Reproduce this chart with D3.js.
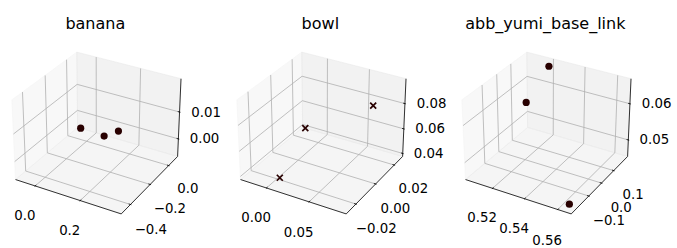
<!DOCTYPE html>
<html>
<head>
<meta charset="utf-8">
<script src="https://cdn.jsdelivr.net/npm/d3@7"></script>
<style>
  body { margin: 0; background: #fff; }
  svg { display: block; }
  text { font-family: "DejaVu Sans", sans-serif; fill: #000; }
</style>
</head>
<body>
<svg id="chart" width="677" height="248"></svg>
<script>
// data
var titles = ["banana", "bowl", "abb_yumi_base_link"];
var markers = ["o", "x", "o"];

var xLims = [[-0.09, 0.375], [-0.0315, 0.092], [0.5027, 0.568]];
var yLims = [[-0.49, 0.10], [-0.0294, 0.0294], [-0.232, 0.218]];
var zLims = [[-0.0067, 0.022], [0.0375, 0.0992], [0.0453, 0.0667]];

var xTicks = [[0.0, 0.2], [0.00, 0.05], [0.52, 0.54, 0.56]];
var yTicks = [[-0.4, -0.2, 0.0], [-0.02, 0.00, 0.02], [-0.1, 0.0, 0.1]];
var zTicks = [[0.00, 0.01], [0.04, 0.06, 0.08], [0.05, 0.06]];

var xTickLabels = [["0.0", "0.2"], ["0.00", "0.05"], ["0.52", "0.54", "0.56"]];
var yTickLabels = [["\u22120.4", "\u22120.2", "0.0"], ["\u22120.02", "0.00", "0.02"], ["\u22120.1", "0.0", "0.1"]];
var zTickLabels = [["0.00", "0.01"], ["0.04", "0.06", "0.08"], ["0.05", "0.06"]];

var bananaX = [-0.003, 0.110, 0.140];
var bananaY = [-0.052, -0.062, 0.018];
var bananaZ = [0.0, 0.0, 0.0];

var bowlX = [0.0110, 0.0021, 0.072];
var bowlY = [-0.0255, 0.0056, 0.0139];
var bowlZ = [0.045, 0.060, 0.085];

var baseX = [0.5196, 0.5183, 0.5635];
var baseY = [0.188, 0.0324, -0.190];
var baseZ = [0.0655, 0.060, 0.0457];

var pointsX = [bananaX, bowlX, baseX];
var pointsY = [bananaY, bowlY, baseY];
var pointsZ = [bananaZ, bowlZ, baseZ];

// view like a default 3d axes: elev 30, azim -60, box aspect 4:4:3
var box = [8 / 7, 8 / 7, 6 / 7];
var elev = 30 * Math.PI / 180, azim = -60 * Math.PI / 180, dist = 10;

function dot(a, b){ return a[0] * b[0] + a[1] * b[1] + a[2] * b[2]; }
function cross(a, b){
    return [a[1] * b[2] - a[2] * b[1], a[2] * b[0] - a[0] * b[2], a[0] * b[1] - a[1] * b[0]];
}
function norm(a){ var l = Math.sqrt(dot(a, a)); return [a[0] / l, a[1] / l, a[2] / l]; }

var w = [Math.cos(elev) * Math.cos(azim), Math.cos(elev) * Math.sin(azim), Math.sin(elev)];
var u = norm(cross([0, 0, 1], w));
var v = cross(w, u);

function project(q){
    var d = dist - dot(w, q);
    return [dot(u, q) / d, dot(v, q) / d];
}

var svg = d3.select("#chart");
var line = d3.line();

function drawPanel(i){
    var left = -2.7 + 225 * i, top = 33.9, side = 196.1;
    var sx = d3.scaleLinear().domain([-0.095, 0.09]).range([left, left + side]);
    var sy = d3.scaleLinear().domain([-0.095, 0.09]).range([top + side, top]);
    var qx = d3.scaleLinear().domain(xLims[i]).range([-box[0] / 2, box[0] / 2]);
    var qy = d3.scaleLinear().domain(yLims[i]).range([-box[1] / 2, box[1] / 2]);
    var qz = d3.scaleLinear().domain(zLims[i]).range([-box[2] / 2, box[2] / 2]);

    // data point -> screen, with an optional shift in box units
    function pt(x, y, z, off){
        off = off || [0, 0, 0];
        var p = project([qx(x) + off[0], qy(y) + off[1], qz(z) + off[2]]);
        return [sx(p[0]), sy(p[1])];
    }

    var x0 = xLims[i][0], x1 = xLims[i][1];
    var y0 = yLims[i][0], y1 = yLims[i][1];
    var z0 = zLims[i][0], z1 = zLims[i][1];

    var g = svg.append("g").classed("panel", true);

    // panes
    var panes = [
        {c: "rgba(242,242,242,0.5)", p: [[x0, y0, z0], [x0, y1, z0], [x0, y1, z1], [x0, y0, z1]]},
        {c: "rgba(230,230,230,0.5)", p: [[x0, y1, z0], [x1, y1, z0], [x1, y1, z1], [x0, y1, z1]]},
        {c: "rgba(236,236,236,0.5)", p: [[x0, y0, z0], [x1, y0, z0], [x1, y1, z0], [x0, y1, z0]]}
    ];
    g.selectAll("path.pane")
        .data(panes)
        .enter().append("path")
            .classed("pane", true)
            .attr("d", d => line(d.p.map(c => pt(c[0], c[1], c[2]))) + "Z")
            .attr("fill", d => d.c)
            .attr("stroke", d => d.c)
            .attr("stroke-width", 1);

    // grid
    var grid = [];
    xTicks[i].forEach(t => grid.push([[t, y0, z0], [t, y1, z0], [t, y1, z1]]));
    yTicks[i].forEach(t => grid.push([[x1, t, z0], [x0, t, z0], [x0, t, z1]]));
    zTicks[i].forEach(t => grid.push([[x0, y0, t], [x0, y1, t], [x1, y1, t]]));
    g.selectAll("path.grid")
        .data(grid)
        .enter().append("path")
            .classed("grid", true)
            .attr("d", d => line(d.map(c => pt(c[0], c[1], c[2]))))
            .attr("fill", "none")
            .attr("stroke", "#b0b0b0")
            .attr("stroke-width", 0.8);

    // axis lines
    var axes = [
        [[x0, y0, z0], [x1, y0, z0]],
        [[x1, y0, z0], [x1, y1, z0]],
        [[x1, y1, z0], [x1, y1, z1]]
    ];
    g.selectAll("path.axis")
        .data(axes)
        .enter().append("path")
            .classed("axis", true)
            .attr("d", d => line(d.map(c => pt(c[0], c[1], c[2]))))
            .attr("fill", "none")
            .attr("stroke", "#000")
            .attr("stroke-width", 0.8);

    // ticks: x ticks point along -y, y and z ticks along +x
    var dt = box[0] / 12;
    var ticks = [];
    xTicks[i].forEach((t, k) => ticks.push({
        a: pt(t, y0, z0, [0, 0.2 * dt, 0]), b: pt(t, y0, z0, [0, -0.1 * dt, 0]),
        at: pt(t, y0, z0, [0, -0.19, -0.222]), label: xTickLabels[i][k]}));
    yTicks[i].forEach((t, k) => ticks.push({
        a: pt(x1, t, z0, [-0.2 * dt, 0, 0]), b: pt(x1, t, z0, [0.1 * dt, 0, 0]),
        at: pt(x1, t, z0, [0.215, 0, -0.2]), label: yTickLabels[i][k]}));
    zTicks[i].forEach((t, k) => ticks.push({
        a: pt(x1, y1, t, [-0.2 * dt, 0, 0]), b: pt(x1, y1, t, [0.1 * dt, 0, 0]),
        at: pt(x1, y1, t, [0.22, 0.127, 0]), label: zTickLabels[i][k]}));

    g.selectAll("path.tick")
        .data(ticks)
        .enter().append("path")
            .classed("tick", true)
            .attr("d", d => line([d.a, d.b]))
            .attr("stroke", "#000")
            .attr("stroke-width", 0.8);

    g.selectAll("text.tick-label")
        .data(ticks)
        .enter().append("text")
            .classed("tick-label", true)
            .attr("x", d => d.at[0])
            .attr("y", d => d.at[1])
            .attr("text-anchor", "middle")
            .attr("dominant-baseline", "central")
            .style("font-size", "13.33px")
            .text(d => d.label);

    // points
    var pts = pointsX[i].map((x, k) => pt(x, pointsY[i][k], pointsZ[i][k]));
    var color = "#280000";
    if (markers[i] === "x"){
        g.selectAll("path.point")
            .data(pts)
            .enter().append("path")
                .classed("point", true)
                .attr("d", d => "M" + (d[0] - 3) + "," + (d[1] - 3) + "L" + (d[0] + 3) + "," + (d[1] + 3) +
                                "M" + (d[0] - 3) + "," + (d[1] + 3) + "L" + (d[0] + 3) + "," + (d[1] - 3))
                .attr("stroke", color)
                .attr("stroke-width", 1.7);
    } else {
        g.selectAll("circle.point")
            .data(pts)
            .enter().append("circle")
                .classed("point", true)
                .attr("cx", d => d[0])
                .attr("cy", d => d[1])
                .attr("r", 3.6)
                .attr("fill", color);
    }

    // title
    g.append("text")
        .attr("x", left + side / 2)
        .attr("y", 29)
        .attr("text-anchor", "middle")
        .style("font-size", "16px")
        .text(titles[i]);
}

titles.forEach((t, i) => drawPanel(i));
</script>
</body>
</html>
